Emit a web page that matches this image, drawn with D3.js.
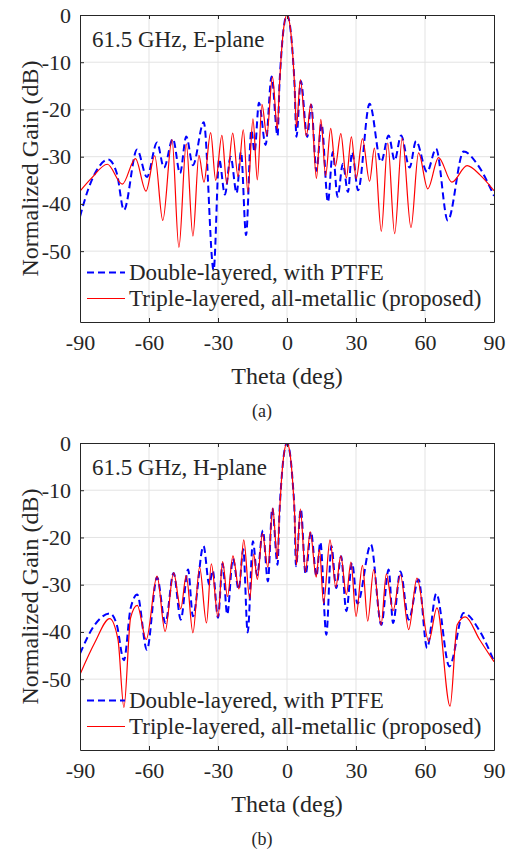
<!DOCTYPE html>
<html>
<head>
<meta charset="utf-8">
<script src="https://cdn.jsdelivr.net/npm/d3@7"></script>
<style>
  body { margin: 0; background: #fff; }
  text { font-family: "Liberation Serif", "Times New Roman", serif; fill: #262626; }
</style>
</head>
<body>
<div id="chart"></div>
<script>
// angle ticks and gain ticks
var thetaTicks = [-90, -60, -30, 0, 30, 60, 90];
var gainTicks = [0, -10, -20, -30, -40, -50];

// E-plane, [theta deg, normalized gain dB]
var eDouble = [[-90,-42.7],[-86.5,-37],[-82,-32.3],[-77.8,-30.6],[-74,-33.5],[-70.9,-41.3],[-65.2,-28.5],[-60.9,-34.3],
  [-56.5,-27],[-53.5,-32.3],[-49.6,-26.2],[-46.5,-33.5],[-43.8,-25.7],[-40.9,-31.8],[-36.2,-22.7],[-31.9,-54],
  [-29.5,-30.5],[-27,-38],[-24.5,-30],[-21.9,-37.7],[-20,-29],[-17.8,-46.6],[-15.5,-24.4],[-14.1,-29],[-12.2,-18.6],
  [-9.3,-27.5],[-6.7,-13],[-4.1,-25.6],[-3.3,-15],[-2.5,-8.5],[-1.5,-3],[0,0],[1.5,-3],[2.5,-8.5],[3.3,-15],
  [4.1,-25.8],[6,-14],[8.8,-25.8],[10.5,-19],[12.8,-33],[15,-23],[17.8,-39.6],[19.9,-29],[22,-38.5],[24.3,-31.5],
  [26.5,-37.5],[28.3,-29],[30.9,-37.1],[35.9,-18.8],[40.9,-31.1],[44.2,-25.5],[46.8,-30.8],[49.6,-25.5],[53.3,-32.3],
  [56.1,-26.7],[60.9,-33.2],[64.8,-28.3],[69.9,-43.5],[76.8,-28.9],[82.6,-31.5],[90,-38.3]];
var eTriple = [[-90,-37.3],[-85.1,-34.6],[-78.1,-31.6],[-71.6,-35.8],[-65.9,-30.4],[-61.3,-37.3],[-57.5,-29.8],
  [-54,-43.5],[-50,-26.4],[-47,-49.2],[-43.8,-27.3],[-40.9,-46.8],[-38.3,-29.7],[-36.1,-35.4],[-33.2,-24.9],
  [-31,-35],[-28.3,-25.5],[-26.2,-35.7],[-23.6,-25],[-21.3,-34.2],[-19,-24.3],[-17,-37.5],[-14.8,-22],[-12.9,-34.9],
  [-10.9,-18.9],[-8.8,-25.5],[-6.3,-13.1],[-4.2,-24.2],[-3.3,-15],[-2.5,-8.5],[-1.5,-3],[0,0],[1.5,-3],[2.5,-8.5],
  [3.3,-15],[4.1,-23.7],[5.8,-13.7],[8.4,-25.6],[10.4,-18.8],[12.8,-34.6],[14.7,-22.1],[16.8,-34],[19,-24],
  [21,-32],[23.4,-25.1],[25.8,-34.5],[28,-25.8],[30.1,-34.6],[32.8,-26.2],[35.9,-35.2],[38,-28.2],[41,-45.8],
  [43.8,-27.1],[46.8,-46.3],[50.1,-26.1],[53.9,-45],[57.2,-29.2],[61.2,-36.8],[65.9,-30.2],[71.7,-35.4],
  [78.3,-31.9],[84,-33.9],[90,-37.2]];

// H-plane
var hDouble = [[-90,-44.6],[-83.6,-38.5],[-77,-36.1],[-74,-38.5],[-70.9,-46],[-68,-35],[-65.1,-32.1],[-60.9,-43.8],
  [-56.5,-28.4],[-52.9,-38.1],[-49.3,-27.5],[-46.2,-37.4],[-43,-26.8],[-40.9,-36.7],[-36.3,-21.8],[-33.8,-30],
  [-32.3,-27],[-30,-37],[-28,-25.5],[-26,-36.3],[-23.5,-24.5],[-21,-31],[-19,-22.5],[-17.1,-40.1],[-14.8,-20.8],
  [-13,-28],[-10.5,-18.5],[-8.3,-29.3],[-6.4,-13.8],[-4.1,-25.8],[-3.3,-15],[-2.5,-8.5],[-1.5,-3],[0,0],[1.5,-3],
  [2.5,-8.5],[3.3,-15],[3.9,-26.1],[6,-14],[8.1,-27.8],[10.4,-18.8],[12.8,-28.2],[14.5,-21],[17.1,-40.6],
  [19.3,-21.8],[21.4,-30.7],[23.5,-24],[25.8,-35.6],[28.3,-25.4],[30.6,-34],[36.5,-21.5],[41,-38.5],[44.2,-26.8],
  [46.1,-38.1],[49.3,-27.2],[52.9,-37.4],[57.2,-28.9],[60.9,-43.4],[64.9,-31.9],[70.6,-47.3],[76.8,-36],
  [84,-40],[90,-46.2]];
var hTriple = [[-90,-49],[-83.6,-42.3],[-77.1,-37.2],[-73.5,-41.6],[-70.9,-56],[-68,-37],[-65.1,-34.4],[-61.2,-41.6],
  [-56.5,-28.2],[-53,-39.9],[-49.3,-27.5],[-46.2,-35.1],[-43.8,-28.1],[-40.9,-40.2],[-38,-26.3],[-35,-38.1],
  [-32.9,-25.6],[-30,-36.8],[-28,-25.1],[-25.9,-32.5],[-23.5,-23.9],[-20.9,-30.9],[-18.8,-20.5],[-16.2,-33],
  [-14.5,-23.5],[-12.9,-28.9],[-10.7,-19.2],[-8.3,-26.3],[-6.2,-13.8],[-4.2,-24.5],[-3.3,-15],[-2.5,-8.5],[-1.5,-3],
  [0,0],[1.5,-3],[2.5,-8.5],[3.3,-15],[4.1,-25.8],[5.8,-14],[8,-27.3],[10.1,-18.8],[12.7,-28.4],[14.1,-22.5],
  [15.9,-33.9],[18.7,-20.5],[21.2,-30.5],[23.4,-23.9],[25.8,-32.1],[27.8,-25.2],[30,-36.7],[32.8,-25.9],
  [35.1,-37.7],[37.7,-26.8],[40.9,-38.5],[43.2,-27.7],[46.1,-35.5],[49.3,-27.9],[52.9,-39.5],[56.5,-28.6],
  [61.6,-42],[65.2,-34.9],[70.9,-55.7],[74,-38.5],[77.5,-36.8],[83.7,-41.6],[90,-46.3]];

var legendNames = ["Double-layered, with PTFE", "Triple-layered, all-metallic (proposed)"];

var svg = d3.select("#chart").append("svg")
  .attr("width", 513).attr("height", 852);

var x = d3.scaleLinear().domain([-90, 90]).range([80, 494]);

function drawPanel(id, top, bottom, dbl, tri, title, caption) {
  var y = d3.scaleLinear().domain([-65, 0]).range([bottom, top]);
  var g = svg.append("g");

  // grid
  g.selectAll(".vg").data(thetaTicks.slice(1, -1)).enter().append("line")
    .attr("x1", function (d) { return x(d); }).attr("x2", function (d) { return x(d); })
    .attr("y1", top).attr("y2", bottom)
    .attr("stroke", "#e3e3e3").attr("stroke-width", 1);
  g.selectAll(".hg").data(gainTicks.slice(1)).enter().append("line")
    .attr("x1", x(-90)).attr("x2", x(90))
    .attr("y1", function (d) { return y(d); }).attr("y2", function (d) { return y(d); })
    .attr("stroke", "#e3e3e3").attr("stroke-width", 1);

  g.append("clipPath").attr("id", "clip" + id).append("rect")
    .attr("x", x(-90)).attr("y", top).attr("width", x(90) - x(-90)).attr("height", bottom - top);

  var line = d3.line()
    .x(function (d) { return x(d[0]); })
    .y(function (d) { return y(d[1]); })
    .curve(d3.curveMonotoneX);

  g.append("path").datum(dbl).attr("d", line).attr("clip-path", "url(#clip" + id + ")")
    .attr("fill", "none").attr("stroke", "#0000ff").attr("stroke-width", 2)
    .attr("stroke-dasharray", "7,4");
  g.append("path").datum(tri).attr("d", line).attr("clip-path", "url(#clip" + id + ")")
    .attr("fill", "none").attr("stroke", "#ff0000").attr("stroke-width", 1.2);

  // axes, ticks inside on all four sides
  var fmt = function (d) { return String(d); };
  var axisB = d3.axisBottom(x).tickValues(thetaTicks).tickSizeInner(-4).tickSizeOuter(0).tickPadding(12).tickFormat(fmt);
  var axisT = d3.axisTop(x).tickValues(thetaTicks).tickSizeInner(-4).tickSizeOuter(0).tickFormat("");
  var axisL = d3.axisLeft(y).tickValues(gainTicks).tickSizeInner(-4).tickSizeOuter(0).tickPadding(9).tickFormat(fmt);
  var axisR = d3.axisRight(y).tickValues(gainTicks).tickSizeInner(-4).tickSizeOuter(0).tickFormat("");

  var aB = g.append("g").attr("transform", "translate(0," + bottom + ")").call(axisB);
  g.append("g").attr("transform", "translate(0," + top + ")").call(axisT);
  var aL = g.append("g").attr("transform", "translate(" + x(-90) + ",0)").call(axisL);
  g.append("g").attr("transform", "translate(" + x(90) + ",0)").call(axisR);
  g.selectAll(".domain").attr("stroke", "#262626").attr("stroke-width", 1);
  g.selectAll(".tick line").attr("stroke", "#262626");
  aB.selectAll("text").attr("font-size", 22).attr("font-family", "Liberation Serif").attr("fill", "#262626");
  aL.selectAll("text").attr("font-size", 22).attr("font-family", "Liberation Serif").attr("fill", "#262626");

  // labels
  g.append("text").attr("x", x(0)).attr("y", bottom + 62).attr("text-anchor", "middle")
    .attr("font-size", 24).text("Theta (deg)");
  g.append("text").attr("transform", "translate(38," + ((top + bottom) / 2) + ") rotate(-90)")
    .attr("text-anchor", "middle").attr("font-size", 24).text("Normalized Gain (dB)");
  g.append("text").attr("x", 92).attr("y", top + 32).attr("font-size", 23).attr("fill", "#000").text(title);
  g.append("text").attr("x", 262).attr("y", bottom + 95).attr("text-anchor", "middle")
    .attr("font-size", 18).attr("fill", "#000").text(caption);

  // legend, text rows about 26 px apart
  var ly = bottom - 49.5;
  var leg = g.append("g");
  leg.append("line").attr("x1", 87).attr("x2", 125).attr("y1", ly).attr("y2", ly)
    .attr("stroke", "#0000ff").attr("stroke-width", 2).attr("stroke-dasharray", "7,4");
  leg.append("line").attr("x1", 87).attr("x2", 125).attr("y1", ly + 26).attr("y2", ly + 26)
    .attr("stroke", "#ff0000").attr("stroke-width", 1.2);
  leg.selectAll("text").data(legendNames).enter().append("text")
    .attr("x", 129).attr("y", function (d, i) { return ly + 7.5 + i * 26; })
    .attr("font-size", 23).attr("fill", "#000").text(function (d) { return d; });
}

drawPanel("a", 15, 322, eDouble, eTriple, "61.5 GHz, E-plane", "(a)");
drawPanel("b", 443, 750, hDouble, hTriple, "61.5 GHz, H-plane", "(b)");
</script>
</body>
</html>
